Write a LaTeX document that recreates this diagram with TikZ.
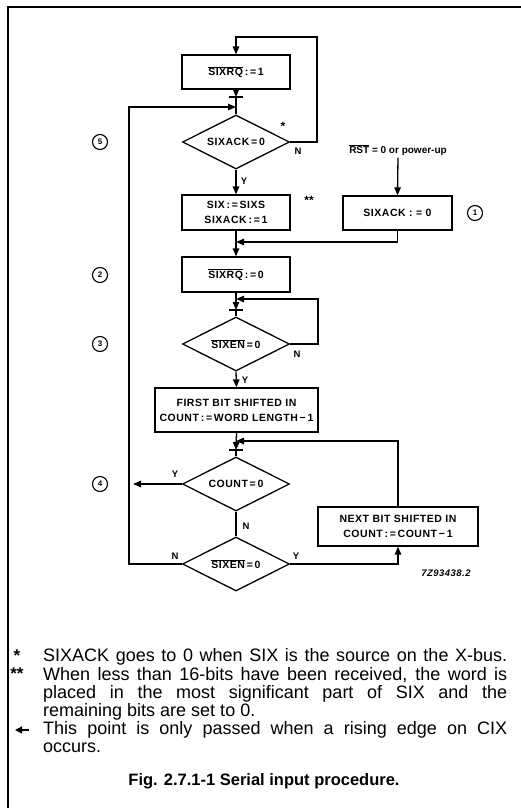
\documentclass[tikz,border=0pt]{standalone}
\usepackage{fontspec}
\setmainfont{Liberation Sans}
\newfontfamily\diafont[LetterSpace=5]{Liberation Sans}
\usetikzlibrary{shapes.geometric,arrows.meta,calc}
\newcommand\ovl[1]{$\overline{\mbox{#1}}$}

\tikzset{
  plainline/.style={line width=1.3pt},
  arrline/.style={line width=1.3pt, -{Triangle[length=8pt,width=6.5pt]}},
  procbox/.style={draw, line width=1.3pt, rectangle, inner sep=0pt, align=center,
    font=\fontsize{10.5}{15}\diafont\bfseries},
  testbox/.style={draw, line width=1.3pt, diamond, aspect=2, inner sep=0pt,
    minimum width=107pt, minimum height=54pt, font=\fontsize{10.5}{12}\diafont\bfseries},
  yn/.style={inner sep=0pt, font=\fontsize{9.5}{10}\selectfont\bfseries},
  numcirc/.style={draw, circle, line width=1.1pt, minimum size=15pt, inner sep=0pt,
    font=\fontsize{8}{8}\selectfont\bfseries},
  noteline/.style={anchor=west, inner sep=0pt, font=\fontsize{18}{18}\selectfont},
  notemark/.style={inner sep=0pt, font=\fontsize{17}{17}\selectfont\bfseries},
}

\begin{document}
\begin{tikzpicture}[x=1pt,y=-1pt]
\useasboundingbox (0,0) rectangle (521,808);

% frame
\draw[line width=1.2pt] (7,7) -- (521,7);
\draw[line width=1.2pt] (8,7) -- (8,808);

% helper coordinates for the loop lines
\coordinate (lx) at (129,0);
\coordinate (rx1) at (317,0);
\coordinate (rx2) at (318,0);
\coordinate (top1) at (236,37);
\coordinate (t1) at (236,97);
\coordinate (j1) at (236,107);
\coordinate (j2) at (236,242);
\coordinate (j3) at (236,299);
\coordinate (t2) at (236,310);
\coordinate (j4) at (236,441);
\coordinate (t3) at (236,450);
\coordinate (ex4) at (133,484);

% process boxes and tests
\node[procbox, minimum width=108pt, minimum height=34pt] (b1) at (236,72) {\ovl{SIXRQ}\,:\,=\,1};
\node[testbox] (d1) at (236,142) {SIXACK\,=\,0};
\node[procbox, minimum width=108pt, minimum height=35pt] (s1) at (236,212.5) {SIX\,:\,=\,SIXS\\SIXACK\,:\,=\,1};
\node[procbox, minimum width=109pt, minimum height=34pt] (a1) at (397.5,213) {SIXACK : = 0};
\node[inner sep=2pt, font=\fontsize{10}{12}\selectfont\bfseries] (rst) at (398,150) {\ovl{RST} = 0 or power-up};
\node[procbox, minimum width=108pt, minimum height=35pt] (r0) at (236,274.5) {\ovl{SIXRQ}\,:\,=\,0};
\node[testbox] (d2) at (236,344) {\ovl{SIXEN}\,=\,0};
\node[procbox, minimum width=163pt, minimum height=44pt] (f) at (236.5,410) {FIRST BIT SHIFTED IN\\COUNT\,:\,=\,WORD LENGTH\,−\,1};
\node[testbox] (d3) at (236,484) {COUNT\,=\,0};
\node[testbox] (d4) at (236,564) {\ovl{SIXEN}\,=\,0};
\node[procbox, minimum width=160pt, minimum height=39pt] (n) at (398,526.5) {NEXT BIT SHIFTED IN\\COUNT\,:\,=\,COUNT\,−\,1};

% circled step numbers
\node[numcirc] (c5) at (100,142) {5};
\node[numcirc] (c1) at (475,213) {1};
\node[numcirc] (c2) at (100,275) {2};
\node[numcirc] (c3) at (100,344) {3};
\node[numcirc] (c4) at (100,484) {4};

% main column
\draw[arrline] (b1.south) -- (t1);
\draw[plainline] (t1) -- (d1.north);
\draw[plainline] ($(t1)+(-7,0)$) -- ($(t1)+(7,0)$);
\draw[arrline] (d1.south) -- (s1.north);
\draw[arrline] (s1.south) -- (r0.north);
\draw[arrline] (r0.south) -- (t2);
\draw[plainline] (t2) -- (d2.north);
\draw[plainline] ($(t2)+(-7,0)$) -- ($(t2)+(7,0)$);
\draw[arrline] (d2.south) -- (f.north);
\draw[arrline] (f.south) -- (t3);
\draw[plainline] (t3) -- (d3.north);
\draw[plainline] ($(t3)+(-7,0)$) -- ($(t3)+(7,0)$);
\draw[plainline] (d3.south) -- (d4.north);

% loops and side branches
\draw[arrline] (d1.east) -- (d1.east -| rx1) |- (top1) -- (b1.north);
\draw[arrline] (rst.south) -- (a1.north);
\draw[arrline] (a1.south) |- (j2);
\draw[arrline] (d2.east) -- (d2.east -| rx2) |- (j3);
\draw[arrline] (n.north) |- (j4);
\draw[arrline] (d3.west) -- (ex4);
\draw[arrline] (d4.east) -| (n.south);
\draw[arrline] (d4.west) -- (d4.west -| lx) |- (j1);

% branch labels
\node[yn] at (298,151) {N};
\node[font=\fontsize{12}{12}\selectfont\bfseries, inner sep=0pt] at (283,126) {*};
\node[yn] at (244,181) {Y};
\node[font=\fontsize{12}{12}\selectfont\bfseries, inner sep=0pt] at (309,200) {**};
\node[yn] at (297,354) {N};
\node[yn] at (245,380) {Y};
\node[yn] at (175,474) {Y};
\node[yn] at (246,526) {N};
\node[yn] at (175,556) {N};
\node[yn] at (296,556) {Y};
\node[inner sep=0pt, font=\fontsize{9.5}{10}\diafont\bfseries\itshape] at (446,573) {7Z93438.2};

% footnotes
\node[notemark] at (17,656) {*};
\node[notemark] at (17,674) {**};
\draw[line width=1.3pt, -{Triangle[length=7pt,width=7pt]}] (29,730) -- (15,730);
\node[noteline] (fn1) at (43,657) {\makebox[464pt][s]{SIXACK goes to 0 when SIX is the source on the X-bus.}};
\node[noteline] (fn2) at (43,675) {\makebox[464pt][s]{When less than 16-bits have been received, the word is}};
\node[noteline] (fn3) at (43,694) {\makebox[464pt][s]{placed in the most significant part of SIX and the}};
\node[noteline] (fn4) at (43,712) {remaining bits are set to 0.};
\node[noteline] (fn5) at (43,730) {\makebox[464pt][s]{This point is only passed when a rising edge on CIX}};
\node[noteline] (fn6) at (43,748) {occurs.};

\node[inner sep=0pt, font=\fontsize{16.5}{18}\selectfont\bfseries] (cap) at (264,781) {Fig. 2.7.1-1 Serial input procedure.};
\end{tikzpicture}
\end{document}
